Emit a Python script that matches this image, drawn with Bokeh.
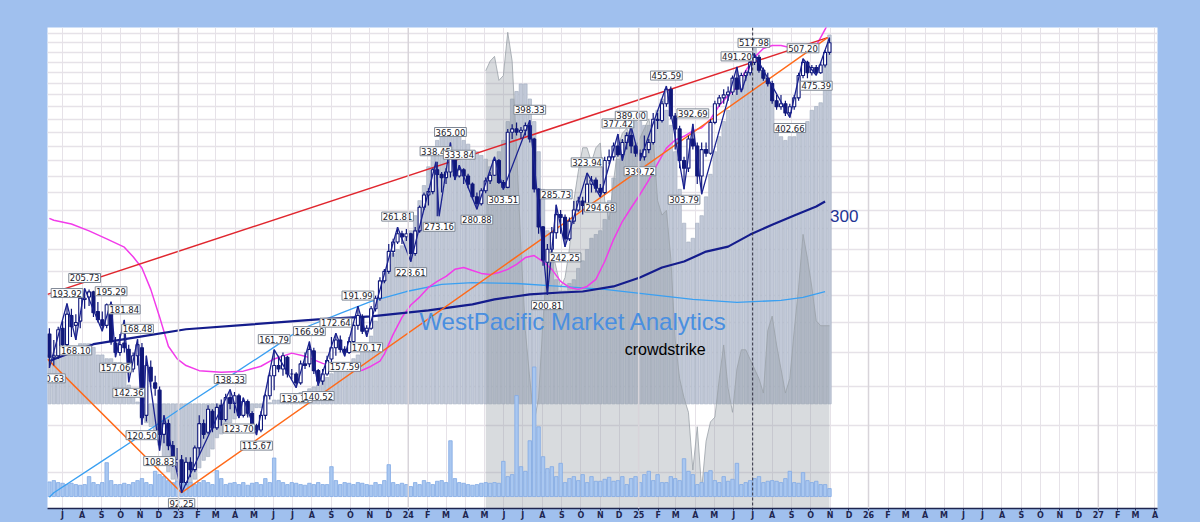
import numpy as np
import pandas as pd
from datetime import datetime
from bokeh.plotting import figure
from bokeh.models import (Range1d, LinearScale, FixedTicker, Span, Label, ColumnDataSource,
                          GlobalInlineStyleSheet)
from bokeh.core.properties import value
from bokeh.embed import file_html
from bokeh.resources import INLINE

# ---------------- weekly candles (week ending Friday), CrowdStrike ----------------
opens = [172,157,158,176,165,185,178,181,197,199,203,188,182,178,193,166,160,166,162,150,158,163,125,151,142,138,116,121,111,104,
         105,96,104,101,110,121,117,127,119,130,123,134,131,135,125,132,126,120,118,125,135,146,152,150,157,147,147,142,153,153,161,149,143,147,156,163,168,162,160,167,178,184,174,176,190,198,212,220,238,247,255,252,
         255,236,258,283,297,301,328,322,318,325,344,320,328,320,310,295,287,302,314,321,340,312,306,380,385,380,383,390,370,304,262,228,240,256,275,272,250,268,280,290,285,310,315,305,300,340,345,360,348,365,375,360,
         350,345,355,365,400,398,425,450,405,385,340,330,370,360,320,355,350,395,425,435,440,445,470,450,475,480,500,510,485,470,460,430,420,425,410,420,435,475,500,480,490,480,495,520]
highs = [176,168,177,181,193.92,190,186,199,205.73,205,204,195,188,194,195.29,170,172,181.84,165,160,168.48,166,158,155,146,140,125,123,113,110,
         107,106,106,111,125,123,130,128,131,133,136,138.33,137,136,134,133,127,121,127,136,148,161.79,158,160,158,150,148,155,160,166.99,163,150,150,158,170,172.64,171,164,170,180,191.99,186,178,192,200,215,222,245,250,261.81,258,260,
         256,262,285,300,305,330,338.45,325,330,365.00,348,333.84,330,323,312,300,305,318,325,345,342,315,385,392,395,388,395,398.33,372,305,263,245,262,285.73,280,275,272,290,295,295,323.94,320,318,310,345,355,365,377.42,370,380,389.00,365,
         355,375,370,410,410,430,455.59,455,410,390,345,375,392.69,365,365,365,400,430,440,450,455,475,491.20,480,485,505,517.98,515,490,480,465,440,440,430,425,440,480,507.20,503,495,495,500,525,551]
lows = [150.63,152,156,160,163,170,168.10,176,190,192,184,180,174,176,165,157.06,158,160,142.36,148,152,120.50,122,140,135,108.83,112,109,102,100,
        92.25,95,98,100,107,114,116,117,118,120,122,128,126,123.70,124,124,117,115.67,117,123,133,138,148,146,145,144,139.37,141,150,151,147,140.52,141,146,154,158,160,157.59,159,166,175,172,170.17,175,188,196,210,218,233,245,245,248,
        228.61,234,256,280,285,298,273.16,300,310,318,315,318,310,305,292,280.88,285,299,310,320,310,303.51,305,370,375,370,375,365,300,255,225,200.81,238,250,255,242.25,248,265,278,275,283,300,300,294.68,298,335,340,345,340,355,350,345,
        339.72,340,350,362,385,395,420,400,355,330,303.79,325,355,310,298,345,348,392,420,425,430,440,440,445,465,475,495,480,465,455,425,415,415,405,402.66,415,430,470,470,475,475.39,478,490,515]
closes = [157,158,175,165,186,177,180,198,198,203,187,182,178,193,167,160,165,163,150,158,165,124,152,143,139,116,121,111,104,105,
          96,104,101,110,121,116,128,119,129,123,134,131,135,125,132,126,120,118,125,135,146,152,150,158,147,147,142,153,152,162,149,143,147,155,163,168,162,160,167,178,185,174,176,190,198,212,220,238,247,255,252,255,
          236,258,283,297,301,328,322,318,325,345,320,328,320,310,295,287,302,314,321,340,312,306,380,385,380,383,390,370,304,262,230,240,256,275,272,250,268,280,290,285,310,315,305,300,340,345,360,348,365,375,360,350,
          345,355,365,400,398,425,450,405,385,340,330,370,360,320,355,350,395,425,435,440,445,470,450,475,480,500,510,485,470,460,430,420,425,410,420,435,475,500,480,490,480,495,520,540]

# weekly volume (millions of shares)
volume = [22,24,21,20,18,20,18,17,18,30,21, 18,21,51,24,18,18,20,18,21,24, 27,21,18,38,33,30,24,21,23,
          27,33,21,18,21,24,21,18,39,27,18, 20,21,18,21,17,20,21,18,27,21, 58,24,21,18,21,20,18,17,20,18,
          21,18,18,45,24,18,21,20,18,21, 20,18,17,21,18,24,48,21,18,20, 18,15,21,18,24,21,18,23,24,21,
          84,27,21,20,18,17,18,20,21,20, 21,20,53,30,33,152,45,38,84,195, 105,60,42,45,30,50,21,27,30,24,
          33,21,30,23,23,26,29,23,24,30, 18,27,30,21,33,38,24,33,21,21, 30,27,24,57,38,33,18,21,36,39,
          24,21,30,23,26,50,18,21,24,27, 30,21,23,24,23,21,27,38,21,20, 36,24,21,23,18,18,12]

# oscillator histogram (weekly)
osc = [13,13,14,15,15,15, 15,16,16,16,15, 13,13,12,12,11, 11,9,5,3,0.5, -4,-5,-6,-7,-11, -16,-18,-20,-21,-22,
       -23,-22,-20,-17,-15, -14,-12,-9,-8,-7, -5,-4,-3,-3,-3, -2,-1,-1,0,0.3, 1,1,1,2,2, 2,3,3,4,4.5,
       5,6,7,8,9, 10,11,11,12,13, 15,16,18,22,28, 33,37,40,41,42, 44,46,50,54,58, 63,67,70,71,72,
       73,73,71,70,69, 67,67,66,65,63, 65,67,70,75,81, 83,85,85,81,75, 67,57,46,38,33, 30,30,32,33,36,
       38,41,44,45,46, 49,54,60,65,70, 72,74,75,75,74, 74,75,78,81,78, 74,67,57,48,43, 44,48,50,55,61,
       67,71,75,78,82, 85,86,87,91,96, 90,88,86,81,74, 71,70,71,71,72, 73,75,78,79,80, 93,98]

# second indicator (area), starts at week index 99
ind_start = 99
ind = [91,93,94,89,90,99,93,75,54,37,27,18,23,39,52,54,50,46,48,54,64,70,75,75,72,75,76,64,60,68,75,78,79,77,75,77,79,81,77,64,61,62,
       52,35,27,23,20,8,17,4,14,18,19,27,34,25,20,29,33,33,31,29,27,24,37,40,34,29,24,27,37,46,57,52,46,39,38,38,38]

# moving averages (week index, price)
ma_mag_idx = [0,1,5,9,13,17,19,21,23,25,27,29,31,34,39,44,48,51,55,58,62,66,69,71,73,75,76,78,80,82,84,86,88,90,92,94,96,98,100,102,
              104,106,108,110,112,114,116,118,120,122,124,126,128,130,132,134,136,138,140,142,144,146,148,150,152,154,156,158,160,162,
              164,166,168,170,172,174,176,177]
ma_mag_val = [271,269,265,258,250,242,233,223,205,184,164,156,152,149,148,148.7,151.6,156,159.6,157.7,153.3,150.4,148.7,149.2,151.6,
              154.7,159,171.8,183.7,192.8,198.9,206.6,211.6,215.8,221.8,223.4,220.8,218.3,217.4,219.1,221.8,226.2,232.3,234.1,228.7,
              221.8,211.6,206.6,205,207.4,213.2,228.7,249.3,267.6,282.5,297.6,315,336,357,368.6,374,382,386.8,400,422,439,453.5,484,
              510,528,534.4,534.4,530,524,528,534,569,590]
ma_navy_idx = [0,1,10,21,31,46,61,73,86,96,101,109,116,121,128,134,139,144,149,154,159,164,169,174,176]
ma_navy_val = [154.6,155.8,165.3,170.5,175.3,178.7,182.2,184.4,188.8,193.3,197.1,201,202.5,203.3,207.4,214.8,223.4,228.7,237.8,
               242.5,254.2,264.3,274,283.9,289.5]
ma_blue_idx = [0,1,11,21,31,41,51,57,66,73,81,89,96,106,116,126,136,146,156,166,171,176]
ma_blue_val = [90.6,92.25,103.3,115.8,130.2,145.8,163.4,175.3,186.6,195.5,203.3,209.0,210.6,209.8,207.4,205.0,201.0,197.1,194.8,
               196.3,198.6,203.3]

# trend lines (date, price)
red_dates = ["2022-06-07", "2025-10-28"]
red_vals = [201.0, 551.0]
orange_dates = ["2022-06-07", "2023-01-06", "2025-10-28"]
orange_vals = [155.9, 92.25, 551.0]

# swing pivots: date, price, kind (H/L), labelled
piv_dates = ["2022-06-10","2022-07-08","2022-07-22","2022-08-05","2022-09-02","2022-09-16","2022-09-23","2022-10-07","2022-10-14","2022-10-28",
             "2022-11-04","2022-11-11","2022-12-02","2022-12-09","2023-01-06","2023-03-24","2023-04-07","2023-04-14","2023-05-05","2023-06-02",
             "2023-07-07","2023-07-28","2023-08-11","2023-09-08","2023-09-22","2023-10-13","2023-10-27","2023-12-15","2024-01-05","2024-02-14",
             "2024-02-19","2024-03-08","2024-03-15","2024-03-22","2024-04-19","2024-05-17","2024-05-31","2024-07-12","2024-08-09","2024-08-23",
             "2024-09-06","2024-10-11","2024-11-01","2024-11-29","2024-12-06","2024-12-20","2025-01-03","2025-02-14","2025-03-14","2025-03-28",
             "2025-04-11","2025-06-06","2025-06-13","2025-07-03","2025-08-29","2025-09-19","2025-10-10","2025-10-31"]
piv_vals = [150.63,193.92,168.10,205.73,174,195.29,157.06,181.84,142.36,168.48,
            120.50,158,108.83,125,92.25,138.33,123.70,134,115.67,161.79,
            139.37,166.99,140.52,172.64,157.59,191.99,170.17,261.81,228.61,338.45,
            273.16,365.00,315,333.84,280.88,345,303.51,398.33,200.81,285.73,
            242.25,323.94,294.68,377.42,340,389.00,339.72,455.59,303.79,392.69,
            298,491.20,445,517.98,402.66,507.20,475.39,551]
piv_kind = ["L","H"] * 29
piv_lab = [1,1,1,1,0,1,1,1,1,1, 1,0,1,0,1,1,1,0,1,1, 1,1,1,1,1,1,1,1,1,1,
           1,1,0,1,1,0,1,1,1,1, 1,1,1,1,0,1,1,1,1,1, 0,1,0,1,1,1,1,0]

# x-axis month labels
month_letters = ["J","F","M","A","M","J","J","A","S","O","N","D"]

assert len(opens) == len(highs) == len(lows) == len(closes) == len(volume) == len(osc) == 178
assert len(ma_mag_idx) == len(ma_mag_val) and len(ma_navy_idx) == len(ma_navy_val) and len(ma_blue_idx) == len(ma_blue_val)

# ---------------- figure ----------------
W, H = 1200, 522
x0 = datetime(2022, 6, 7)
x1 = datetime(2027, 4, 5)
p = figure(width=W, height=H, output_backend="svg", toolbar_location=None,
           x_axis_type="datetime", y_axis_type="log",
           x_range=Range1d(x0, x1), y_range=Range1d(86.7, 573.4),
           min_border_left=47, min_border_right=43, min_border_top=27, min_border_bottom=12,
           border_fill_color="#A0C0EE", background_fill_color="#FFFFFF")
p.outline_line_color = None
p.stylesheets = [GlobalInlineStyleSheet(css="body{background:#A0C0EE;}")]

p.extra_y_ranges = {"osc": Range1d(-27.8, 100), "ind": Range1d(0, 100), "vol": Range1d(-18, 706)}
p.extra_y_scales = {"osc": LinearScale(), "ind": LinearScale(), "vol": LinearScale()}

dates = pd.date_range("2022-06-10", periods=len(closes), freq="W-FRI")
ms = lambda d: pd.Timestamp(d).value / 1e6
DAY = 86400000.0

# ticks at month starts
month_starts = pd.date_range("2022-06-01", "2027-04-01", freq="MS")
ticks = [ms(d) for d in month_starts]
overrides = {}
for d, t in zip(month_starts, ticks):
    overrides[t] = ("%02d" % (d.year % 100)) if d.month == 1 else month_letters[d.month - 1]

p.xaxis.ticker = FixedTicker(ticks=ticks)
p.xaxis.major_label_overrides = overrides
p.xaxis.axis_line_color = "#1E2650"
p.xaxis.axis_line_width = 1.5
p.xaxis.major_tick_line_color = "#1E2650"
p.xaxis.major_tick_out = 2
p.xaxis.major_tick_in = 0
p.xaxis.minor_tick_line_color = None
p.xaxis.major_label_standoff = 0
p.xaxis.major_label_text_font = "DejaVu Sans"
p.xaxis.major_label_text_font_size = "8px"
p.xaxis.major_label_text_font_style = "bold"
p.xaxis.major_label_text_color = "#1E2650"
p.yaxis.visible = False

p.xgrid.ticker = FixedTicker(ticks=ticks)
p.xgrid.grid_line_color = "#E6E2E8"
p.ygrid.ticker = FixedTicker(ticks=list(range(100, 580, 20)))
p.ygrid.grid_line_color = "#E6E2E8"
p.ygrid.grid_line_width = 1.5

for yr in (2023, 2024, 2025, 2026, 2027):
    p.add_layout(Span(location=ms(f"{yr}-01-01"), dimension="height", line_color="#D8D4DA", line_width=1.5))

BAR_W = 5.5 * DAY

# oscillator histogram
p.vbar(x=dates, top=osc, bottom=0, width=BAR_W, y_range_name="osc",
       fill_color="#C2C9D8", line_color="#A8B1C3", line_width=0.7)

# area indicator
ind_dates = dates[ind_start:ind_start + len(ind)]
p.varea(x=ind_dates, y1=0, y2=ind, y_range_name="ind", fill_color="#8C959D", fill_alpha=0.34)
p.line(x=ind_dates, y=ind, y_range_name="ind", line_color="#9AA1A8", line_width=0.8)

# volume
p.vbar(x=dates, top=volume, bottom=0, width=BAR_W, y_range_name="vol",
       fill_color="#A9C7F0", line_color="#82AAE4", line_width=0.8)

# moving averages
p.line(x=dates[ma_blue_idx], y=ma_blue_val, line_color="#3AA0F2", line_width=1.3)
p.line(x=dates[ma_mag_idx], y=ma_mag_val, line_color="#F23BEA", line_width=1.5)
p.line(x=dates[ma_navy_idx], y=ma_navy_val, line_color="#141C8C", line_width=2.2)

# trend lines
p.line(x=pd.to_datetime(red_dates), y=red_vals, line_color="#E0262E", line_width=1.5)
p.line(x=pd.to_datetime(orange_dates), y=orange_vals, line_color="#FF6A1A", line_width=1.5)

# vertical marker
p.add_layout(Span(location=ms("2025-07-01"), dimension="height", line_color="#303040",
                  line_width=1, line_dash="3 2"))

# candles
o = np.array(opens, float); c = np.array(closes, float)
up = c >= o
src_up = ColumnDataSource(dict(x=dates[up], top=np.maximum(o, c)[up], bottom=np.minimum(o, c)[up]))
src_dn = ColumnDataSource(dict(x=dates[~up], top=np.maximum(o, c)[~up], bottom=np.minimum(o, c)[~up]))
NAVY = "#10187A"
p.segment(x0=dates, y0=lows, x1=dates, y1=highs, line_color=NAVY, line_width=1.2)
p.vbar(x="x", top="top", bottom="bottom", width=4.8 * DAY, source=src_up,
       fill_color="white", line_color=NAVY, line_width=1.1)
p.vbar(x="x", top="top", bottom="bottom", width=4.8 * DAY, source=src_dn,
       fill_color=NAVY, line_color=NAVY, line_width=1.1)

# zigzag
pd_dates = pd.to_datetime(piv_dates)
p.line(x=pd_dates, y=piv_vals, line_color="#1A2290", line_width=1.3)

# pivot labels
hi = [i for i in range(len(piv_vals)) if piv_lab[i] and piv_kind[i] == "H"]
lo = [i for i in range(len(piv_vals)) if piv_lab[i] and piv_kind[i] == "L"]
for idx, base, off in ((hi, "bottom", -6), (lo, "top", 6)):
    s = ColumnDataSource(dict(x=pd_dates[idx], y=[piv_vals[i] for i in idx],
                              t=["%.2f" % piv_vals[i] for i in idx]))
    p.text(x="x", y="y", text="t", source=s, text_font=value("DejaVu Sans"), text_font_size="8.5px",
           text_color="#1C1C2C", text_align="center", text_baseline=base, y_offset=off,
           background_fill_color="white", border_line_color="#7E8794", padding=1)

# texts
p.add_layout(Label(x=ms("2024-09-19"), y=180.8, text="WestPacific Market Analytics",
                   text_font="Liberation Sans", text_font_size="24px", text_color="#4A8FE0",
                   text_align="center", text_baseline="middle"))
p.add_layout(Label(x=ms("2025-02-12"), y=162.1, text="crowdstrike",
                   text_font="Liberation Sans", text_font_size="16px", text_color="#000000",
                   text_align="center", text_baseline="middle"))
p.add_layout(Label(x=ms("2025-11-01"), y=274, text="300",
                   text_font="Liberation Sans", text_font_size="17px", text_color="#243494",
                   text_align="left", text_baseline="middle"))

open("out.html", "w").write(file_html(p, INLINE))
